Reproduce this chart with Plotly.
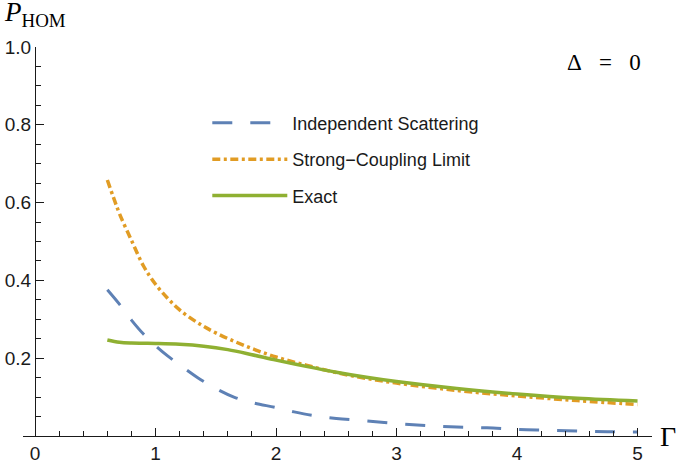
import plotly.graph_objects as go

# --- data ---
indep_x = [0.6, 0.7, 0.8, 0.9, 1.0, 1.1, 1.2, 1.35, 1.5, 1.65, 1.8, 2.0, 2.15, 2.3, 2.5,
           2.75, 3.0, 3.25, 3.5, 3.75, 4.0, 4.25, 4.5, 4.75, 5.0]
indep_y = [0.376, 0.339, 0.298, 0.262, 0.232, 0.206, 0.183, 0.150, 0.122, 0.100, 0.086,
           0.073, 0.062, 0.053, 0.045, 0.039, 0.032, 0.027, 0.023, 0.021, 0.017, 0.015,
           0.013, 0.011, 0.010]

strong_x = [0.6, 0.65, 0.7, 0.8, 0.9, 1.0, 1.1, 1.2, 1.35, 1.5, 1.75, 2.0, 2.25, 2.5,
            2.75, 3.0, 3.5, 4.0, 4.5, 5.0]
strong_y = [0.658, 0.614, 0.572, 0.503, 0.437, 0.390, 0.354, 0.324, 0.291, 0.265, 0.231,
            0.203, 0.182, 0.163, 0.148, 0.136, 0.117, 0.103, 0.091, 0.081]

exact_x = [0.6, 0.7, 0.8, 0.9, 1.0, 1.2, 1.4, 1.6, 1.8, 2.0, 2.25, 2.5, 2.75, 3.0,
           3.5, 4.0, 4.5, 5.0]
exact_y = [0.247, 0.241, 0.239, 0.2385, 0.238, 0.236, 0.231, 0.222, 0.209, 0.195,
           0.179, 0.164, 0.151, 0.140, 0.122, 0.108, 0.097, 0.090]

names = ["Independent Scattering", "Strong\u2212Coupling Limit", "Exact"]
x_ticks = [0, 1, 2, 3, 4, 5]
y_ticks = [0.2, 0.4, 0.6, 0.8, 1.0]
y_tick_text = ["0.2", "0.4", "0.6", "0.8", "1.0"]

X_RANGE = [-0.1, 5.12]
Y_RANGE = [0, 1.0]

BLUE = "#5E81B5"
ORANGE = "#E19C24"
GREEN = "#8FB032"
AX = "#1a1a1a"
SANS = "Liberation Sans, Arial, sans-serif"
SERIF = "Liberation Serif, Times New Roman, serif"

fig = go.Figure()
fig.add_trace(go.Scatter(x=indep_x, y=indep_y, mode="lines", name=names[0],
                         legendgroup="a", line=dict(color=BLUE, width=3, dash="20px,18px", shape="spline")))
fig.add_trace(go.Scatter(x=strong_x, y=strong_y, mode="lines", name=names[1],
                         legendgroup="b", line=dict(color=ORANGE, width=3.5, dash="8px,3.5px,3px,3.5px", shape="spline")))
fig.add_trace(go.Scatter(x=exact_x, y=exact_y, mode="lines", name=names[2],
                         legendgroup="c", line=dict(color=GREEN, width=3.5, shape="spline")))

ypos = (0 - X_RANGE[0]) / (X_RANGE[1] - X_RANGE[0])

fig.update_layout(
    width=685, height=460,
    margin=dict(l=23, r=33, t=47, b=24, autoexpand=False),
    paper_bgcolor="white", plot_bgcolor="white",
    font=dict(family=SANS, size=19, color=AX),
    showlegend=True,
    legend=dict(x=0.293, y=0.852, xanchor="left", yanchor="top",
                bgcolor="rgba(0,0,0,0)", font=dict(family=SANS, size=18, color=AX),
                itemwidth=75, tracegroupgap=10),
    xaxis=dict(range=X_RANGE, showgrid=False, zeroline=False, showline=True,
               linecolor=AX, linewidth=1.3, anchor="y",
               tickmode="array", tickvals=x_ticks, ticktext=[str(v) for v in x_ticks],
               ticks="inside", ticklen=8, tickwidth=1.2, tickcolor=AX,
               tickfont=dict(family=SANS, size=19, color=AX),
               minor=dict(tickmode="linear", tick0=0, dtick=0.2, ticks="inside",
                          ticklen=4.5, tickwidth=1, tickcolor=AX),
               automargin=False),
    yaxis=dict(range=Y_RANGE, showgrid=False, zeroline=False, showline=True,
               linecolor=AX, linewidth=1.3, anchor="free", position=ypos,
               tickmode="array", tickvals=y_ticks, ticktext=y_tick_text,
               ticks="inside", ticklen=8, tickwidth=1.2, tickcolor=AX,
               tickfont=dict(family=SANS, size=19, color=AX),
               minor=dict(tickmode="linear", tick0=0, dtick=0.05, ticks="inside",
                          ticklen=4.5, tickwidth=1, tickcolor=AX),
               automargin=False),
)

fig.add_annotation(text="<i>P</i><sub>HOM</sub>", xref="paper", yref="paper",
                   x=-0.034, y=1.085, xanchor="left", yanchor="middle", showarrow=False,
                   font=dict(family=SERIF, size=27, color="black"))
fig.add_annotation(text="\u0394\u00a0\u00a0\u00a0=\u00a0\u00a0\u00a00", xref="paper", yref="paper",
                   x=0.986, y=0.96, xanchor="right", yanchor="middle", showarrow=False,
                   font=dict(family=SERIF, size=23, color="black"))
fig.add_annotation(text="\u0393", xref="paper", yref="paper",
                   x=1.0, y=0.0, xanchor="left", yanchor="middle", xshift=6, showarrow=False,
                   font=dict(family=SERIF, size=28, color="black"))

fig.write_html("out.html", config={"displayModeBar": False},
               post_script="document.body.style.margin='0';document.body.style.padding='0';")
